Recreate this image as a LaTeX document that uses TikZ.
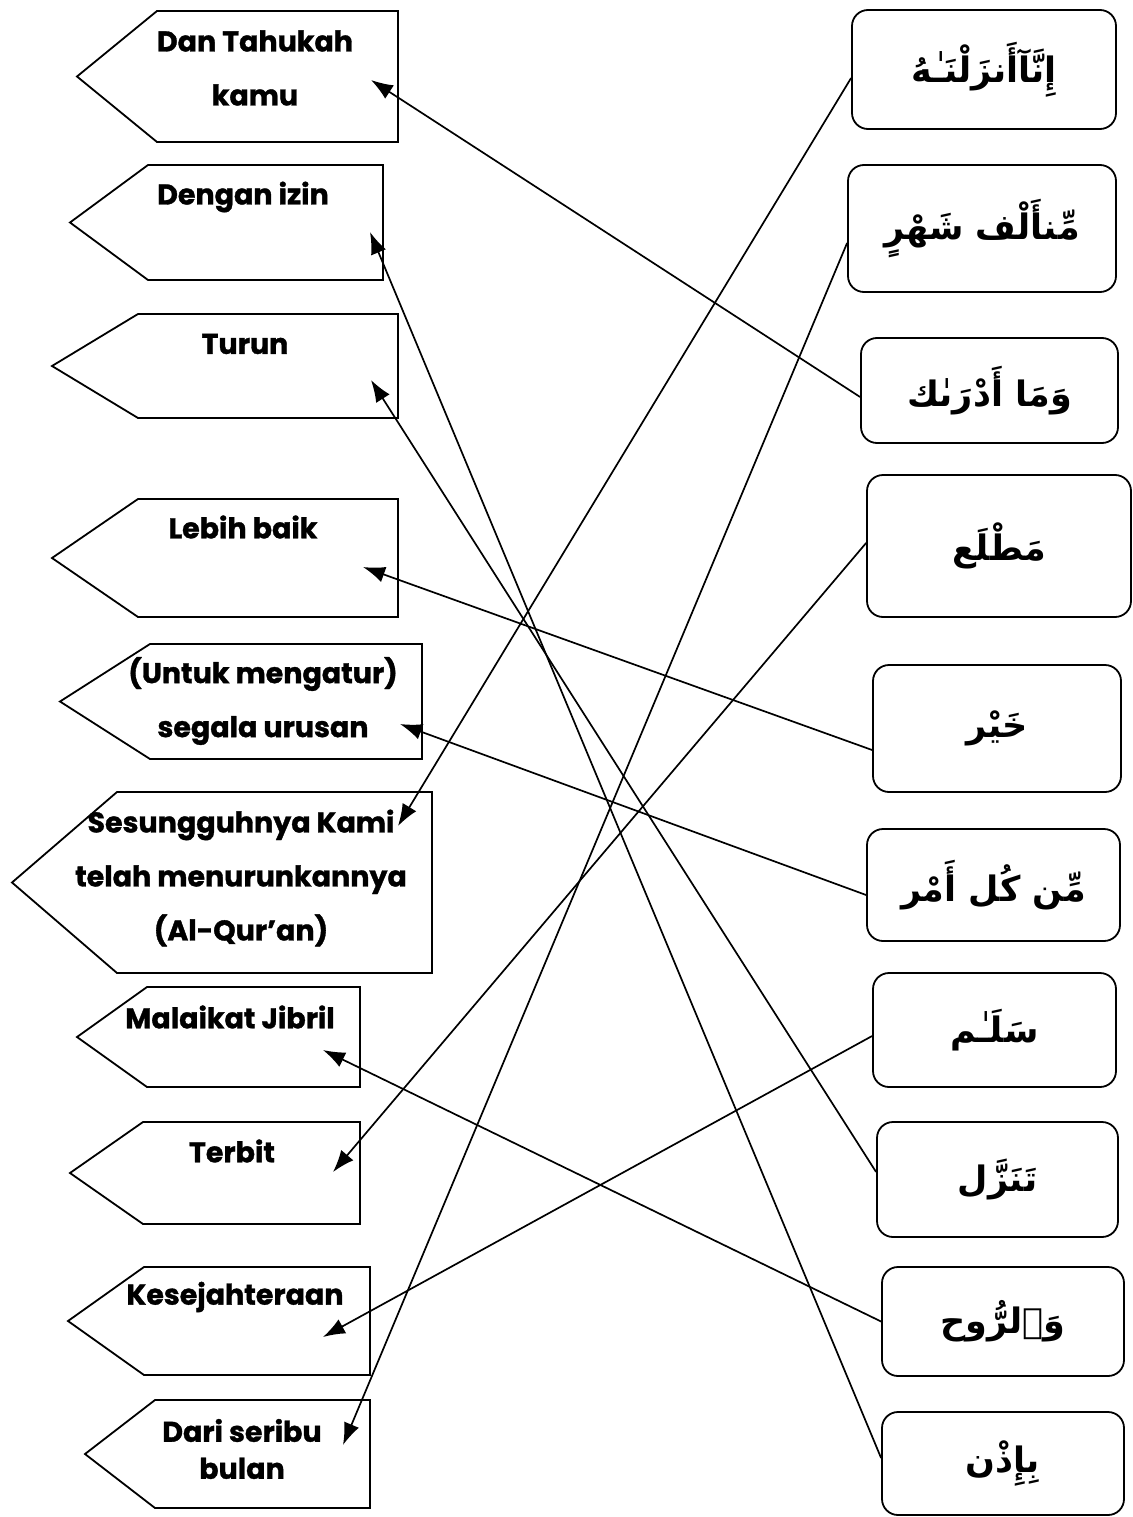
\documentclass[tikz,border=0pt]{standalone}
\usepackage{fontspec}
\setmainfont{Poppins}[BoldFeatures={FakeBold=1.2}]
\newfontfamily\arabicfont[Script=Arabic]{DejaVu Sans}
\TeXXeTstate=1
\usetikzlibrary{arrows.meta}

\tikzstyle{tagline} = [draw, line width=1.8pt, line join=miter]
\tikzstyle{tagtext} = [font=\fontsize{28.5}{54}\selectfont\bfseries, align=center, inner sep=0pt]
\tikzstyle{ayah} = [draw, line width=1.8pt, rounded corners=16pt, font=\arabicfont\bfseries\fontsize{35}{40}\selectfont]
\tikzstyle{arrow} = [draw, line width=1.7pt, -{Latex[length=22pt,width=16pt]}]

\newcommand{\tagshape}[5]{%
  \draw[tagline] (#1,{(#4+#5)/2}) -- (#2,#4) -- (#3,#4) -- (#3,#5) -- (#2,#5) -- cycle;}

\begin{document}
\begin{tikzpicture}[x=1pt, y=-1pt]
    \useasboundingbox (0,0) rectangle (1132,1517);

    % left tags
    \tagshape{77}{157}{398}{11}{142}
    \tagshape{70}{148}{383}{165}{280}
    \tagshape{52}{138}{398}{314}{418}
    \tagshape{52}{138}{398}{499}{617}
    \tagshape{60}{150}{422}{644}{759}
    \tagshape{12}{117}{432}{792}{973}
    \tagshape{77}{147}{360}{987}{1087}
    \tagshape{70}{143}{360}{1122}{1224}
    \tagshape{68}{144}{370}{1267}{1375}
    \tagshape{85}{155}{370}{1400}{1508}

    % left labels
    \node[tagtext] (l1) at (255,68) {Dan Tahukah\\kamu};
    \node[tagtext] (l2) at (243,197) {Dengan izin};
    \node[tagtext] (l3) at (245,344) {Turun};
    \node[tagtext] (l4) at (243,527) {Lebih baik};
    \node[tagtext] (l5) at (263,701) {(Untuk mengatur)\\segala urusan};
    \node[tagtext] (l6) at (241,878) {Sesungguhnya Kami\\telah menurunkannya\\(Al-Qur’an)};
    \node[tagtext] (l7) at (230,1017) {Malaikat Jibril};
    \node[tagtext] (l8) at (232,1151) {Terbit};
    \node[tagtext] (l9) at (235,1297) {Kesejahteraan};
    \node[tagtext, font=\fontsize{28.5}{37}\selectfont\bfseries] (l10) at (242,1449) {Dari seribu\\bulan};

    % right boxes
    \node[ayah, minimum width=264pt, minimum height=119pt] (r1) at (984,69.5) {\beginR إِنَّآأَنزَلْنَـٰهُ\endR};
    \node[ayah, minimum width=268pt, minimum height=127pt] (r2) at (982,228.5) {\beginR مِّنأَلْف شَهْرٍ\endR};
    \node[ayah, minimum width=257pt, minimum height=105pt] (r3) at (989.5,390.5) {\beginR وَمَا أَدْرَىٰك\endR};
    \node[ayah, minimum width=264pt, minimum height=142pt] (r4) at (999,546) {\beginR مَطْلَع\endR};
    \node[ayah, minimum width=248pt, minimum height=127pt] (r5) at (997,728.5) {\beginR خَيْر\endR};
    \node[ayah, minimum width=253pt, minimum height=112pt] (r6) at (993.5,885) {\beginR مِّن كُل أَمْر\endR};
    \node[ayah, minimum width=243pt, minimum height=114pt] (r7) at (994.5,1030) {\beginR سَلَـٰم\endR};
    \node[ayah, minimum width=241pt, minimum height=115pt] (r8) at (997.5,1179.5) {\beginR تَنَزَّل\endR};
    \node[ayah, minimum width=242pt, minimum height=109pt] (r9) at (1003,1321.5) {\beginR وَٱلرُّوح\endR};
    \node[ayah, minimum width=242pt, minimum height=103pt] (r10) at (1003,1463.5) {\beginR بِإِذْن\endR};

    % arrow tips
    \coordinate (t1) at (371,80);
    \coordinate (t2) at (370,232);
    \coordinate (t3) at (371,380);
    \coordinate (t4) at (363,567);
    \coordinate (t5) at (400,724);
    \coordinate (t6) at (398,826);
    \coordinate (t7) at (323,1050);
    \coordinate (t8) at (333,1172);
    \coordinate (t9) at (323,1337);
    \coordinate (t10) at (343,1445);

    % matching lines
    \draw[arrow] ([yshift=-6.5pt]r3.west) -- (t1);
    \draw[arrow] ([yshift=5.5pt]r10.west) -- (t2);
    \draw[arrow] ([yshift=7.5pt]r8.west) -- (t3);
    \draw[arrow] ([yshift=-21.5pt]r5.west) -- (t4);
    \draw[arrow] ([yshift=-10pt]r6.west) -- (t5);
    \draw[arrow] ([yshift=-8.5pt]r1.west) -- (t6);
    \draw[arrow] (r9.west) -- (t7);
    \draw[arrow] ([yshift=3pt]r4.west) -- (t8);
    \draw[arrow] ([yshift=-6pt]r7.west) -- (t9);
    \draw[arrow] ([yshift=-14.5pt]r2.west) -- (t10);
\end{tikzpicture}
\end{document}
